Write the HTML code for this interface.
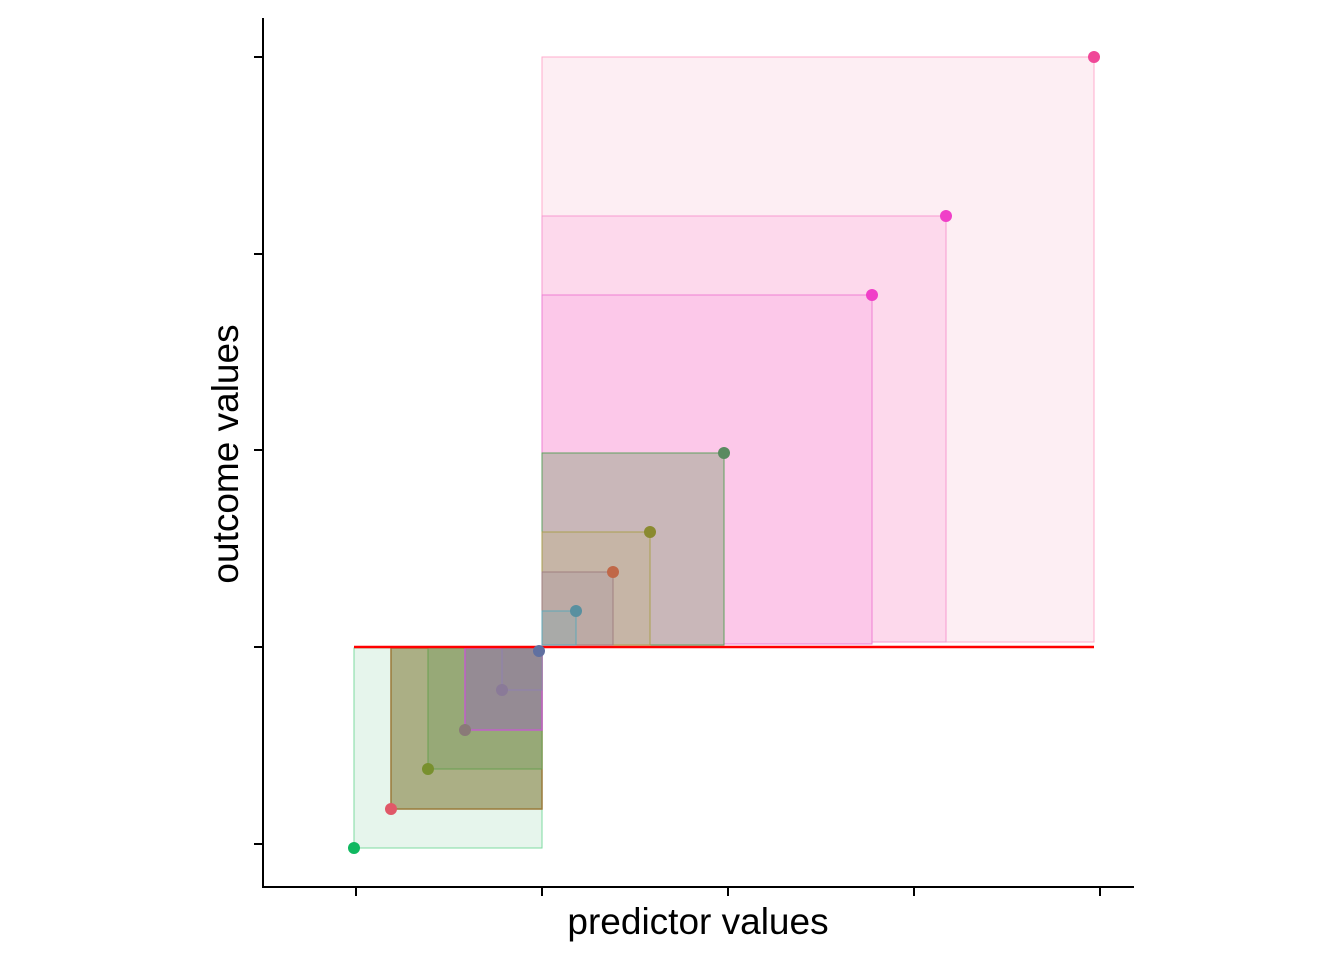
<!DOCTYPE html>
<html><head><meta charset="utf-8"><style>body{margin:0;background:#fff}</style></head><body>
<svg width="1344" height="960" xmlns="http://www.w3.org/2000/svg" font-family="Liberation Sans, Arial, sans-serif">
<rect width="1344" height="960" fill="#fff"/>
<rect x="542" y="57" width="552" height="585" fill="#fdeef3" stroke="#ffaccc" stroke-width="1"/>
<rect x="542" y="216" width="404" height="426" fill="#fdd9ec" stroke="#f79ad0" stroke-width="1"/>
<rect x="542" y="295" width="330" height="349" fill="#fcc8e9" stroke="#ee80d4" stroke-width="1"/>
<rect x="542" y="453" width="182" height="192" fill="#c9b7b9" stroke="#5fa060" stroke-width="1"/>
<rect x="542" y="532" width="108" height="113" fill="#c6b5a6" stroke="#aaa050" stroke-width="1"/>
<rect x="542" y="572" width="71" height="73" fill="#bcaaa5" stroke="#a08080" stroke-width="1"/>
<rect x="542" y="611" width="34" height="34" fill="#a9aaa8" stroke="#60a8b8" stroke-width="1"/>
<rect x="354" y="648" width="188" height="200" fill="#e6f5ec" stroke="#7ddba0" stroke-width="1"/>
<rect x="391" y="648" width="151" height="161" fill="#abaf85" stroke="#9a7a3a" stroke-width="1.5"/>
<rect x="428" y="648" width="114" height="121" fill="#97a977" stroke="#6aa050" stroke-width="1"/>
<rect x="465" y="648" width="77" height="82" fill="#958b94" stroke="#c060c8" stroke-width="1.5"/>
<rect x="502" y="648" width="40" height="42" fill="#948a94" stroke="#9080b0" stroke-width="1"/>
<line x1="354" y1="647" x2="1094" y2="647" stroke="#ff0000" stroke-width="2.5"/>
<g>
<circle cx="354" cy="848" r="6" fill="#10b860"/>
<circle cx="391" cy="809" r="6" fill="#e05868"/>
<circle cx="428" cy="769" r="6" fill="#78902e"/>
<circle cx="465" cy="730" r="6" fill="#8a7a78"/>
<circle cx="502" cy="690" r="6" fill="#8a7a98"/>
<circle cx="539" cy="651" r="6" fill="#6070a0"/>
<circle cx="576" cy="611" r="6" fill="#5890a0"/>
<circle cx="613" cy="572" r="6" fill="#c06848"/>
<circle cx="650" cy="532" r="6" fill="#8a8a30"/>
<circle cx="724" cy="453" r="6" fill="#5a8a60"/>
<circle cx="872" cy="295" r="6" fill="#f040c8"/>
<circle cx="946" cy="216" r="6" fill="#f040c8"/>
<circle cx="1094" cy="57" r="6" fill="#f04898"/>
</g>
<g stroke="#000" stroke-width="2">
<line x1="263" y1="18" x2="263" y2="888"/>
<line x1="262" y1="887" x2="1134" y2="887"/>
<line x1="356" y1="887" x2="356" y2="896"/>
<line x1="542" y1="887" x2="542" y2="896"/>
<line x1="728" y1="887" x2="728" y2="896"/>
<line x1="914" y1="887" x2="914" y2="896"/>
<line x1="1100" y1="887" x2="1100" y2="896"/>
<line x1="254" y1="57" x2="263" y2="57"/>
<line x1="254" y1="254" x2="263" y2="254"/>
<line x1="254" y1="450" x2="263" y2="450"/>
<line x1="254" y1="647" x2="263" y2="647"/>
<line x1="254" y1="844" x2="263" y2="844"/>
</g>
<text x="698" y="934" font-size="37" text-anchor="middle">predictor values</text>
<text x="0" y="0" font-size="37" text-anchor="middle" transform="translate(238,454) rotate(-90)">outcome values</text>
</svg>
</body></html>
